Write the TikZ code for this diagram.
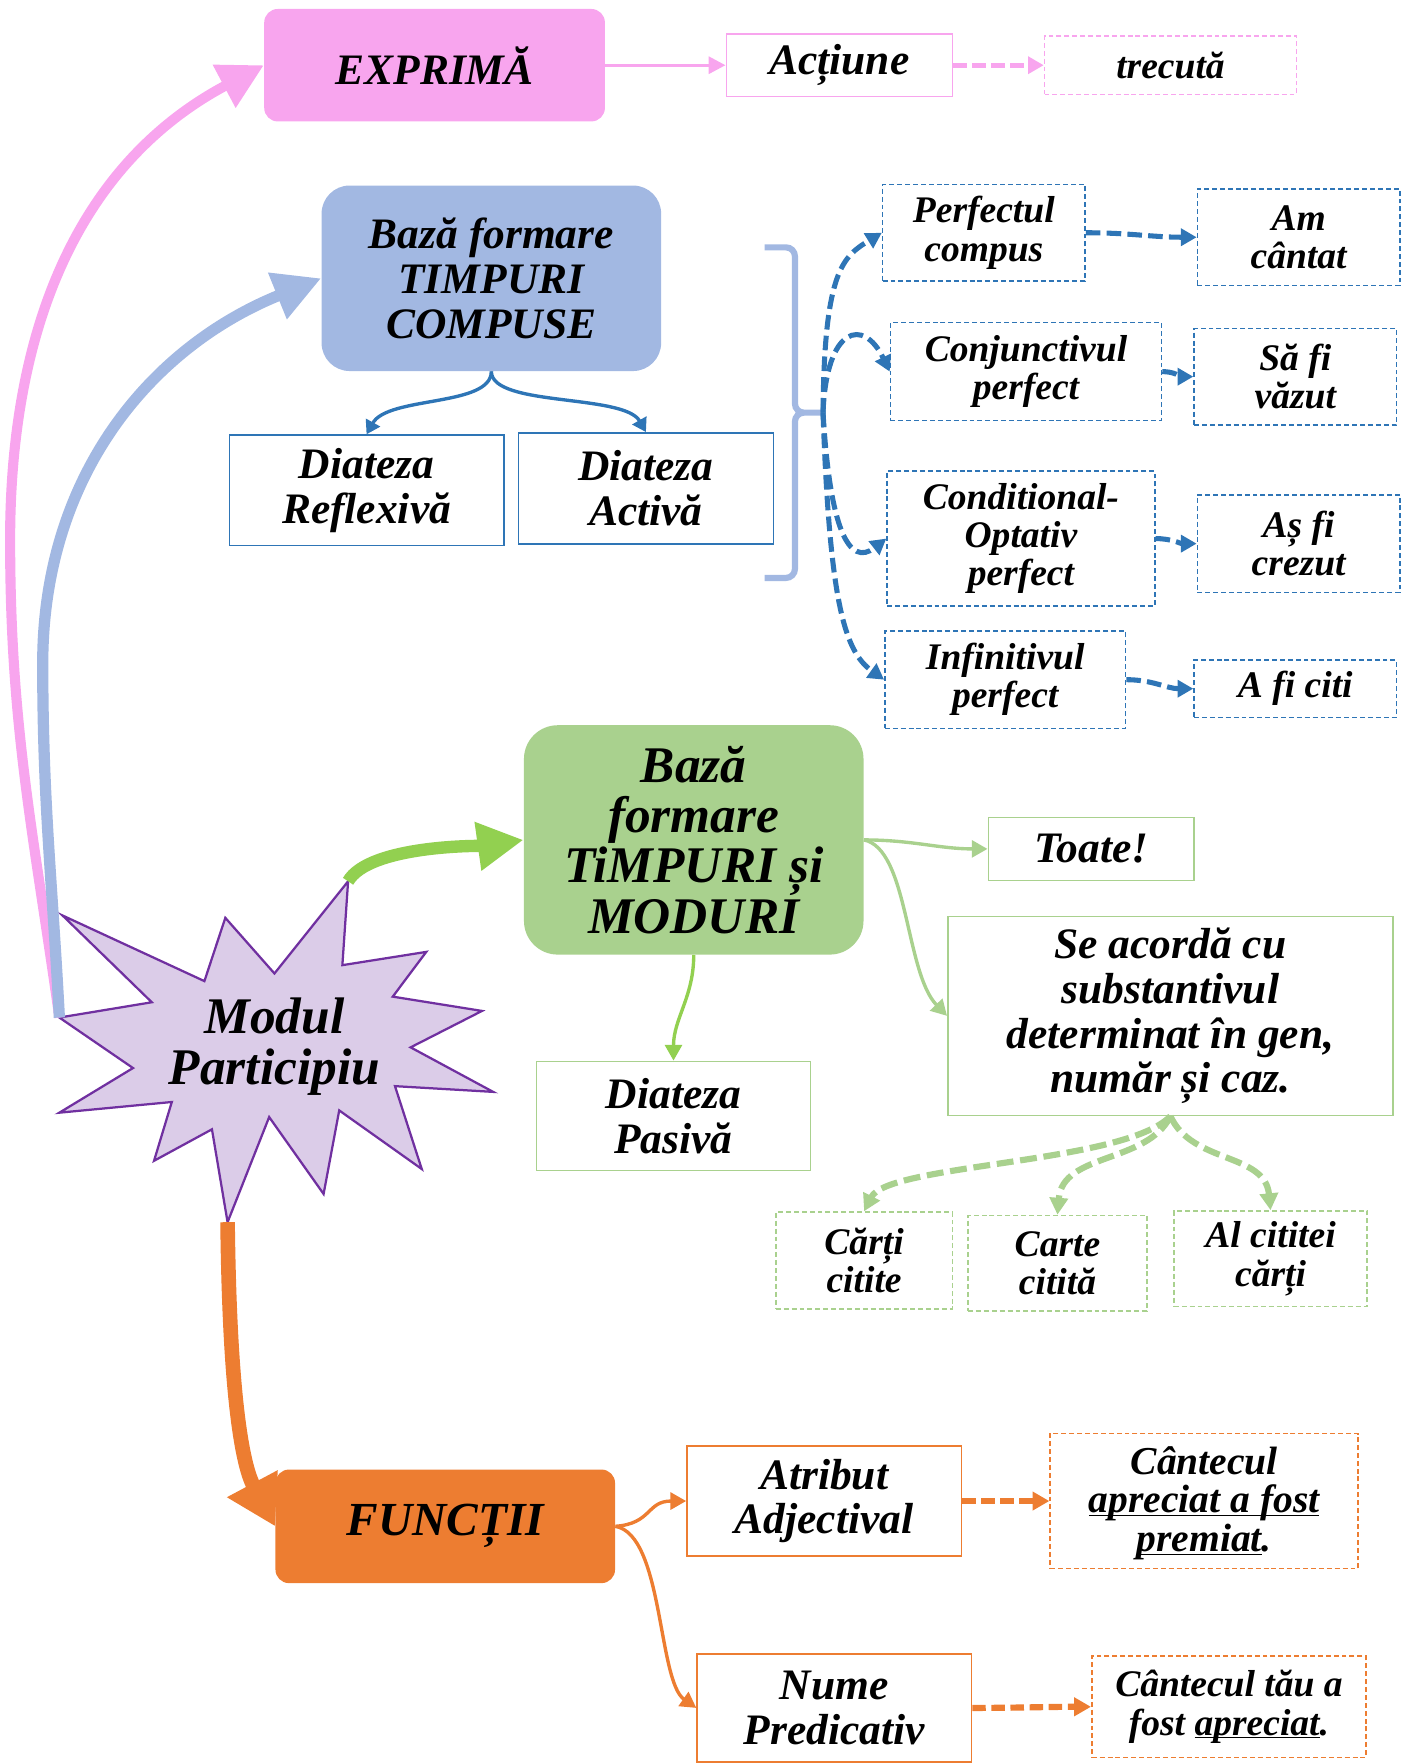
\documentclass[tikz,border=0pt]{standalone}
\usepackage{fontspec}
\setmainfont{Liberation Serif}
\usepackage{tikz}
\usetikzlibrary{arrows.meta}

\definecolor{pinkbox}{HTML}{F8A5EE}
\definecolor{bluebox}{HTML}{A2B8E2}
\definecolor{blueline}{HTML}{2E75B6}
\definecolor{greenbox}{HTML}{A9D18E}
\definecolor{greenline}{HTML}{92D050}
\definecolor{orangebox}{HTML}{ED7D31}
\definecolor{starfill}{HTML}{DBCCE8}
\definecolor{starline}{HTML}{7030A0}

\newcommand{\undertext}[1]{\underline{\smash{#1}}}

\begin{document}
\begin{tikzpicture}[x=0.2mm, y=0.2mm,
    txt/.style={align=center, inner sep=0pt, font=\fontsize{22}{22.7}\selectfont\bfseries\itshape},
    big txt/.style={align=center, inner sep=0pt, font=\fontsize{26}{25.5}\selectfont\bfseries\itshape},
    small txt/.style={align=center, inner sep=0pt, font=\fontsize{19}{19.3}\selectfont\bfseries\itshape},
    box dash/.style={dash pattern=on 2.5pt off 1.5pt},
    pink sweep/.style={draw=pinkbox, line width=1.8mm, -{Triangle[length=8mm,width=8.2mm]}},
    blue sweep/.style={draw=bluebox, line width=2mm, -{Triangle[length=8.4mm,width=8.4mm]}},
    green sweep/.style={draw=greenline, line width=2.2mm, -{Triangle[length=8.2mm,width=8.2mm]}},
    orange sweep/.style={draw=orangebox, line width=2.6mm, -{Triangle[length=8.6mm,width=9.6mm]}},
    pink link/.style={draw=pinkbox, line width=0.6mm, -{Triangle[length=3mm,width=3mm]}},
    pink dash link/.style={draw=pinkbox, line width=0.9mm, dash pattern=on 2.4mm off 1mm, -{Triangle[length=2.8mm,width=3mm]}},
    blue link/.style={draw=blueline, line width=0.6mm, -{Triangle[length=2.4mm,width=2.8mm]}},
    blue dash link/.style={draw=blueline, line width=0.9mm, dash pattern=on 2.6mm off 1.1mm, -{Triangle[length=2.8mm,width=3mm]}},
    green link/.style={draw=greenbox, line width=0.6mm, -{Triangle[length=2.8mm,width=3mm]}},
    green dash link/.style={draw=greenbox, line width=1.1mm, dash pattern=on 3mm off 1.2mm, -{Triangle[length=3mm,width=3.2mm]}},
    orange link/.style={draw=orangebox, line width=0.6mm, -{Triangle[length=2.8mm,width=3mm]}},
    orange dash link/.style={draw=orangebox, line width=1.1mm, dash pattern=on 2.4mm off 1mm, -{Triangle[length=3mm,width=3.2mm]}},
    brace line/.style={draw=bluebox, line width=1.1mm, rounded corners=1.6mm}
]
    \useasboundingbox (0,0) rectangle (1252,-1568);

    \coordinate (star top) at (309.6,-783.8);
    \coordinate (star left) at (52.8,-905);
    \coordinate (star bottom) at (202.4,-1087);
    \coordinate (pink bend) at (9,-480);
    \coordinate (blue bend) at (38,-590);
    \coordinate (brace top) at (680,-220);
    \coordinate (brace bottom) at (680,-514);
    \coordinate (brace tip) at (732,-367);

    \draw [draw=starline, fill=starfill, line width=0.4mm] (star top) -- (244.1,-865.8) -- (200.4,-816.3) -- (181.8,-872.6) -- (55.6,-814.2) -- (135.0,-891.4) -- (star left) -- (118.3,-949.9) -- (52.8,-989.6) -- (152.8,-980.1) -- (137.0,-1032.4) -- (188.5,-1004.4) -- (star bottom) -- (239.4,-993.5) -- (287.8,-1061.9) -- (301.7,-987.6) -- (375.1,-1039.7) -- (351.3,-966.0) -- (438.6,-971.1) -- (365.2,-931.5) -- (428.7,-899.1) -- (349.3,-886.4) -- (379.1,-846.6) -- (304.5,-858.4) -- cycle;
    \node [big txt] (modul) at (244,-931) {Modul\\Participiu};

    \node [txt, fill=pinkbox, rounded corners=2.4mm, minimum width=60.6mm, minimum height=20mm] (exprima) at (386.5,-58) {EXPRIMĂ};
    \node [txt, draw=pinkbox, line width=0.8pt, minimum width=40.2mm, minimum height=11.2mm] (actiune) at (746.5,-58) {Acțiune};
    \node [small txt, draw=pinkbox, box dash, line width=0.8pt, minimum width=44.8mm, minimum height=10.4mm] (trecuta) at (1041,-58) {trecută};

    \node [txt, fill=bluebox, rounded corners=5mm, minimum width=60.4mm, minimum height=33mm] (baza compuse) at (437,-247.5) {Bază formare\\TIMPURI\\COMPUSE};
    \node [txt, draw=blueline, line width=0.8pt, minimum width=48.8mm, minimum height=19.6mm] (reflexiva) at (326,-436) {Diateza\\Reflexivă};
    \node [txt, draw=blueline, line width=0.8pt, minimum width=45.4mm, minimum height=19.8mm] (activa) at (574.5,-434.5) {Diateza\\Activă};

    \node [small txt, draw=blueline, box dash, line width=0.8pt, minimum width=36mm, minimum height=17.2mm] (perfectul) at (875,-207) {Perfectul\\compus};
    \node [small txt, draw=blueline, box dash, line width=0.8pt, minimum width=48.2mm, minimum height=17.4mm] (conjunctivul) at (912.5,-330.5) {Conjunctivul\\perfect};
    \node [small txt, draw=blueline, box dash, line width=0.8pt, minimum width=47.6mm, minimum height=24mm] (conditional) at (908,-479) {Conditional-\\Optativ\\perfect};
    \node [small txt, draw=blueline, box dash, line width=0.8pt, minimum width=42.8mm, minimum height=17.4mm] (infinitivul) at (894,-604.5) {Infinitivul\\perfect};

    \node [small txt, draw=blueline, box dash, line width=0.8pt, minimum width=36mm, minimum height=17.2mm] (am cantat) at (1155,-211) {Am\\cântat};
    \node [small txt, draw=blueline, box dash, line width=0.8pt, minimum width=36mm, minimum height=17.2mm] (sa fi) at (1152,-335) {Să fi\\văzut};
    \node [small txt, draw=blueline, box dash, line width=0.8pt, minimum width=36mm, minimum height=17.4mm] (as fi) at (1155,-483.5) {Aș fi\\crezut};
    \node [small txt, draw=blueline, box dash, line width=0.8pt, minimum width=36mm, minimum height=10.2mm] (a fi) at (1152,-612.5) {A fi citi};

    \node [big txt, fill=greenbox, rounded corners=6mm, minimum width=60.4mm, minimum height=40.8mm] (baza moduri) at (617,-747) {Bază\\formare\\TiMPURI și\\MODURI};
    \node [txt, draw=greenbox, line width=0.8pt, minimum width=36.6mm, minimum height=11.2mm] (toate) at (970.5,-755) {Toate!};
    \node [txt, draw=greenbox, line width=0.8pt, minimum width=79.2mm, minimum height=35.4mm] (se acorda) at (1041,-903.5) {Se acordă cu\\substantivul\\determinat în gen,\\număr și caz.};
    \node [txt, draw=greenbox, line width=0.8pt, minimum width=48.8mm, minimum height=19.4mm] (pasiva) at (599,-992.5) {Diateza\\Pasivă};

    \node [small txt, draw=greenbox, box dash, line width=0.8pt, minimum width=31.4mm, minimum height=17.2mm] (carti) at (768.5,-1121) {Cărți\\citite};
    \node [small txt, draw=greenbox, box dash, line width=0.8pt, minimum width=31.8mm, minimum height=17mm] (carte) at (940.5,-1123.5) {Carte\\citită};
    \node [small txt, draw=greenbox, box dash, line width=0.8pt, minimum width=34.4mm, minimum height=17mm] (al cititei) at (1130,-1119.5) {Al cititei\\cărți};

    \node [txt, font=\fontsize{24}{24}\selectfont\bfseries\itshape, fill=orangebox, rounded corners=2.4mm, minimum width=60.4mm, minimum height=20.2mm] (functii) at (396,-1357.5) {FUNCȚII};
    \node [txt, draw=orangebox, line width=0.8pt, minimum width=48.8mm, minimum height=19.6mm] (atribut) at (733,-1335) {Atribut\\Adjectival};
    \node [txt, draw=orangebox, line width=0.8pt, minimum width=48.8mm, minimum height=19.2mm] (nume) at (742,-1519) {Nume\\Predicativ};
    \node [small txt, font=\fontsize{20}{19.3}\selectfont\bfseries\itshape, draw=orangebox, box dash, line width=0.8pt, minimum width=54.8mm, minimum height=24mm] (cantecul unu) at (1071,-1335) {Cântecul\\\undertext{apreciat a fost}\\\undertext{premiat}.};
    \node [small txt, draw=orangebox, box dash, line width=0.8pt, minimum width=48.8mm, minimum height=18mm] (cantecul doi) at (1093,-1518) {Cântecul tău a\\fost \undertext{apreciat}.};

    \draw [pink sweep] (star left) to[out=98,in=-90] (pink bend) to[out=90,in=-152] (exprima.west);
    \draw [blue sweep] (star left) to[out=93,in=-90] (blue bend) to[out=90,in=-158] (baza compuse.west);
    \draw [green sweep] (star top) to[out=60,in=188,looseness=0.6] (baza moduri.west);
    \draw [orange sweep] (star bottom) .. controls (204,-1230) and (214,-1300) .. (functii.west);

    \draw [pink link] (exprima.east) -- (actiune.west);
    \draw [pink dash link] (actiune.east) -- (trecuta.west);

    \draw [blue link] (baza compuse.south) .. controls (437,-362) and (345,-352) .. (reflexiva.north);
    \draw [blue link] (baza compuse.south) .. controls (437,-362) and (555,-350) .. (activa.north);

    \draw [brace line] (brace top) -- (707,-220) -- (707,-367) -- (brace tip) (brace bottom) -- (707,-514) -- (707,-367) -- (brace tip);

    \draw [blue dash link] (brace tip) .. controls (733,-240) and (750,-228) .. (perfectul.west);
    \draw [blue dash link] (brace tip) .. controls (735,-290) and (768,-282) .. (conjunctivul.west);
    \draw [blue dash link] (brace tip) .. controls (738,-470) and (755,-505) .. (conditional.west);
    \draw [blue dash link] (brace tip) .. controls (738,-540) and (752,-580) .. (infinitivul.west);

    \draw [blue dash link] (perfectul.east) to[out=0,in=180] (am cantat.west);
    \draw [blue dash link] (conjunctivul.east) to[out=0,in=180] (sa fi.west);
    \draw [blue dash link] (conditional.east) to[out=0,in=180] (as fi.west);
    \draw [blue dash link] (infinitivul.east) to[out=0,in=180] (a fi.west);

    \draw [green link] (baza moduri.east) to[out=0,in=180] (toate.west);
    \draw [green link] (baza moduri.east) .. controls (808,-755) and (805,-865) .. (se acorda.west);
    \draw [green link, draw=greenline] (baza moduri.south) to[out=-90,in=90] (pasiva.north);

    \draw [green dash link] (se acorda.south) .. controls (1000,-1035) and (790,-1035) .. (carti.north);
    \draw [green dash link] (se acorda.south) .. controls (1020,-1035) and (945,-1025) .. (carte.north);
    \draw [green dash link] (se acorda.south) .. controls (1060,-1035) and (1125,-1025) .. (al cititei.north);

    \draw [orange link] (functii.east) .. controls (580,-1355) and (575,-1335) .. (atribut.west);
    \draw [orange link] (functii.east) .. controls (590,-1365) and (585,-1495) .. (nume.west);
    \draw [orange dash link] (atribut.east) -- (cantecul unu.west);
    \draw [orange dash link] (nume.east) to[out=0,in=180] (cantecul doi.west);
\end{tikzpicture}
\end{document}
